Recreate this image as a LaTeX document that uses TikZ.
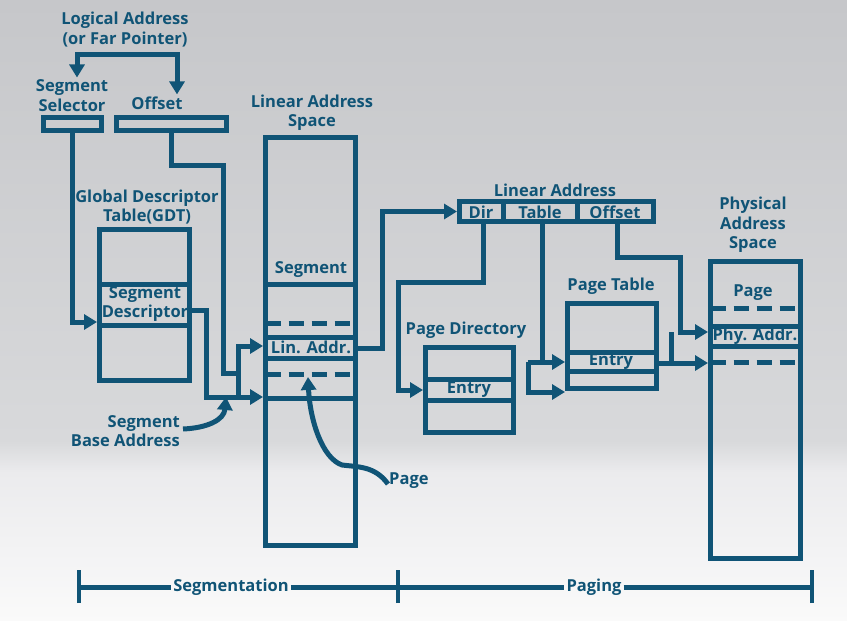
\documentclass[tikz,border=0pt]{standalone}
\usepackage{fontspec}
\setmainfont{Open Sans}
\usetikzlibrary{arrows.meta,calc}
\definecolor{ink}{RGB}{16,84,118}
\definecolor{bgtop}{RGB}{198,199,202}
\definecolor{bgmid}{RGB}{216,217,219}
\definecolor{bglow}{RGB}{235,235,237}
\definecolor{bgbot}{RGB}{250,250,250}
\pgfdeclareverticalshading{bgshade}{100bp}{color(0bp)=(bgbot); color(25bp)=(bgbot); color(37bp)=(bglow); color(39.5bp)=(bgmid); color(75bp)=(bgtop); color(100bp)=(bgtop)}
\begin{document}
\begin{tikzpicture}[x=1pt,y=-1pt,
  >={Triangle[length=13pt,width=15pt]},
  line/.style={draw=ink,line width=5pt},
  arr/.style={line,->},
  box/.style={draw=ink,line width=5pt,rectangle,inner sep=0pt},
  lbl/.style={text=ink,font=\fontsize{16.5}{19.5}\selectfont\bfseries,align=center,inner sep=1pt},
  dashrow/.style={draw=ink,line width=5pt,dash pattern=on 15pt off 8pt}
]
\useasboundingbox (0,0) rectangle (847,621);
% background
\shade[shading=bgshade] (0,0) rectangle (847,621);

% ---------- boxes ----------
\node[box,minimum width=58pt,minimum height=13pt] (sel) at (72,123.5) {};
\node[box,minimum width=110pt,minimum height=13pt] (off) at (171,123.5) {};
\node[box,minimum width=90pt,minimum height=151pt] (gdt) at (144.5,305) {};
\node[box,minimum width=90pt,minimum height=408pt] (las) at (310.5,341.5) {};
\node[box,minimum width=194pt,minimum height=20pt] (la) at (556.5,211.5) {};
\node[box,minimum width=88pt,minimum height=85pt] (pd) at (469.5,390) {};
\node[box,minimum width=89pt,minimum height=85pt] (pt) at (612,346) {};
\node[box,minimum width=90pt,minimum height=297pt] (pas) at (755.5,410) {};

% rows of the boxes
\draw[line] (99,284) -- (190,284) (99,325) -- (190,325);
\draw[line] (265,284) -- (356,284) (265,337) -- (356,337) (265,358) -- (356,358) (265,398) -- (356,398);
\draw[dashrow] (265.5,323) -- (356,323) (265.5,374) -- (356,374);
\draw[line] (503,201) -- (503,222) (577,201) -- (577,222);
\draw[line] (425,379) -- (514,379) (425,400) -- (514,400);
\draw[line] (567,352) -- (657,352) (567,371) -- (657,371);
\draw[dashrow] (710.5,308) -- (801,308) (710.5,362) -- (801,362);
\draw[line] (710,326) -- (801,326) (710,346) -- (801,346);

% ---------- labels ----------
\node[lbl] (logical) at (125,29.5) {Logical Address\\(or Far Pointer)};
\node[lbl] (sellbl) at (72,95.5) {Segment\\Selector};
\node[lbl] (offlbl) at (157,103) {Offset};
\node[lbl] (gdtlbl) at (147,207) {Global Descriptor\\Table(GDT)};
\node[lbl] (gdtdesc) at (145,304) {Segment\\Descriptor};
\node[lbl] (laslbl) at (312,112.5) {Linear Address\\Space};
\node[lbl] (lasseg) at (311,270) {Segment};
\node[lbl] (laslin) at (311,347.5) {Lin. Addr.};
\node[lbl] (lalbl) at (555,190) {Linear Address};
\node[lbl] (dir) at (481,212) {Dir};
\node[lbl] (tab) at (540,212) {Table};
\node[lbl] (ofs) at (615,212) {Offset};
\node[lbl] (pdlbl) at (466,330) {Page Directory};
\node[lbl] (pdent) at (469,389.5) {Entry};
\node[lbl] (ptlbl) at (611,286) {Page Table};
\node[lbl] (ptent) at (611,361.5) {Entry};
\node[lbl] (paslbl) at (753,225) {Physical\\Address\\Space};
\node[lbl] (paspage) at (753,293) {Page};
\node[lbl] (pasphy) at (755,336) {Phy. Addr.};
\node[lbl,align=right,anchor=east] (sba) at (181,431) {Segment\\Base Address};
\node[lbl,anchor=west] (pagelbl) at (388,481) {Page};

% ---------- connectors ----------
\coordinate (lg1) at (77,54);
\coordinate (lg2) at (177,54);
\draw[line,<->] ([yshift=1pt]sellbl.north -| lg1) -- (lg1) -- (lg2) -- ([yshift=1pt]offlbl.north -| lg2);

\draw[arr] (sel.south) |- (gdt.west |- 0,322);

\coordinate (j1) at (223,165);
\coordinate (j2) at (238,373);
\draw[line] (off.south) |- (j1) |- (j2);

\coordinate (j3) at (206,397);
\draw[arr] (gdt.east |- 0,310) -| (j3) -- (las.west |- j3);
\coordinate (j4) at (238,397);
\draw[arr] (j4) |- (las.west |- 0,346);

\coordinate (j5) at (382,348);
\draw[arr] (las.east |- j5) -- (j5) |- (la.west);

\coordinate (d1) at (483,282);
\coordinate (d2) at (398,282);
\draw[arr] (la.south -| d1) -- (d1) -- (d2) |- (pd.west);

\coordinate (t1) at (542,362);
\coordinate (t2) at (528,362);
\coordinate (t3) at (528,392);
\draw[line] (la.south -| t1) -- (t1);
\draw[arr] (t2) -- (pt.west |- t2);
\draw[arr] (t2) -- (t3) -- (pt.west |- t3);

\coordinate (f0) at (617,257);
\coordinate (f1) at (680,257);
\coordinate (f2) at (680,332);
\draw[arr] (la.south -| f0) -- (f0) -- (f1) -- (f2) -- (pas.west |- f2);
\coordinate (e1) at (671,363);
\draw[arr] (pt.east |- e1) -- (pas.west |- e1);
\draw[line] (e1) -- (e1 |- f2);

\coordinate (sbatip) at (226,397);
\draw[arr] ([xshift=2pt,yshift=2pt]sba.east) .. controls (207,428) and (224,420) .. (sbatip);

\coordinate (pagetip) at (308,377);
\draw[arr] ([yshift=-3pt]pagelbl.west) .. controls (375,466) and (358,467) .. (342,465) .. controls (322,458) and (310,420) .. (pagetip);

% ---------- bottom bar ----------
\coordinate (b0) at (79,587);
\coordinate (b1) at (398,587);
\coordinate (b2) at (812,587);
\node[lbl,inner sep=2pt] (segt) at (231,587) {Segmentation};
\node[lbl,inner sep=2pt] (pagt) at (594,587) {Paging};
\draw[line] (b0) -- (segt.west) (segt.east) -- (b1) -- (pagt.west) (pagt.east) -- (b2);
\draw[draw=ink,line width=4pt] ([yshift=-16pt]b0) -- ([yshift=17pt]b0)
  ([yshift=-16pt]b1) -- ([yshift=17pt]b1) ([yshift=-16pt]b2) -- ([yshift=17pt]b2);
\end{tikzpicture}
\end{document}
